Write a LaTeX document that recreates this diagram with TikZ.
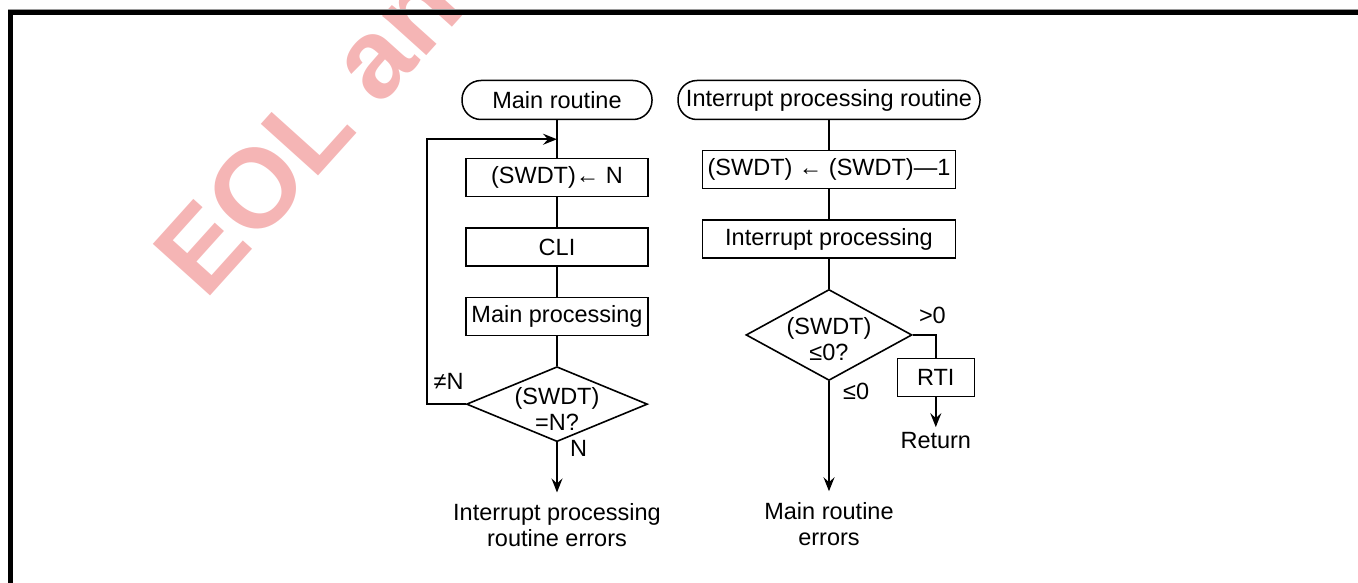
\documentclass[tikz,border=0pt]{standalone}
\usepackage{fontspec}
\setmainfont{Liberation Sans}
\usepackage{tikz}
\usetikzlibrary{arrows.meta,positioning,shapes.geometric}
\definecolor{Ink}{HTML}{000000}
\definecolor{Wmark}{HTML}{F5B5B5}
\definecolor{Rule}{HTML}{9A9A9A}

\begin{document}
\begin{tikzpicture}[
    x=1pt,y=-1pt,
    node distance=30pt,
    every node/.style={font=\fontsize{23.5}{26}\selectfont},
    term/.style={draw=Ink,line width=1.5pt,rounded corners=19pt,minimum height=39pt,inner sep=2pt},
    box/.style={draw=Ink,line width=1.2pt,minimum height=38pt,inner sep=2pt},
    decide/.style={draw=Ink,line width=1.6pt,diamond,inner sep=0pt},
    txt/.style={align=center,inner sep=2pt},
    endtxt/.style={align=center,inner sep=2pt,outer sep=9pt},
    link/.style={line width=2pt,draw=Ink},
    arrow/.style={-{Stealth[length=14pt,width=11pt,inset=5pt]},line width=2pt,draw=Ink}
]
\useasboundingbox (0,0) rectangle (1358,583);
% watermark
\begin{scope}
\clip (0,0) rectangle (1358,583);
\node[rotate=48,anchor=base west,inner sep=0pt,text=Wmark,
  font=\fontsize{112}{112}\selectfont\bfseries] (wm) at (205,302) {EOL an};
\end{scope}
% frame
\draw[Rule,line width=1pt] (8,9.3) -- (1358,9.3);
\draw[Ink,line width=5pt] (10.5,583) -- (10.5,12.5) -- (1358,12.5);

% main routine
\node[term,minimum width=190pt] (main) at (557,100) {Main routine};
\node[box,minimum width=182pt,below=38pt of main] (setn) {(SWDT)← N};
\node[box,minimum width=182pt,below=of setn] (cli) {CLI};
\node[box,minimum width=182pt,below=of cli] (mproc) {Main processing};
\node[decide,minimum width=181pt,minimum height=75pt,below=of mproc] (test) {};
\node[txt,yshift=-5pt] (testq) at (test) {(SWDT)\\=N?};
\node[endtxt,below=50pt of test] (err1) {Interrupt processing\\routine errors};
\coordinate[below=19pt of main] (join);

% interrupt routine
\node[term,minimum width=302pt] (irq) at (829,100) {Interrupt processing routine};
\node[box,minimum width=253pt,below=of irq] (dec) {(SWDT) ← (SWDT)—1};
\node[box,minimum width=253pt,below=of dec] (iproc) {Interrupt processing};
\node[decide,minimum width=166pt,minimum height=91pt,below=of iproc] (chk) {};
\node[txt,yshift=-4pt] (chkq) at (chk) {(SWDT)\\≤0?};
\node[box,minimum width=77pt,anchor=north] (rti) at ([xshift=23pt,yshift=-23pt]chk.east) {RTI};
\node[txt,outer sep=3pt,below=of rti] (ret) {Return};
\node[endtxt,below=110pt of chk] (err2) {Main routine\\errors};

% branch labels
\node[txt,anchor=south east] (lne) at ([yshift=12pt]test.west) {≠N};
\node[txt,anchor=north west] (ln) at ([xshift=11pt,yshift=4pt]test.south) {N};
\node[txt,anchor=south west] (lgt) at ([xshift=4pt,yshift=9pt]chk.east) {>0};
\node[txt,anchor=north west] (lle) at ([xshift=12pt]chk.south) {≤0};

\draw[link] (main) -- (setn);
\draw[link] (setn) -- (cli);
\draw[link] (cli) -- (mproc);
\draw[link] (mproc) -- (test);
\draw[arrow] (test.west) -- ++(-39,0) |- (join);
\draw[arrow] (test.south) -- (err1.north);
\draw[link] (irq) -- (dec);
\draw[link] (dec) -- (iproc);
\draw[link] (iproc) -- (chk);
\draw[link] (chk.east) -| (rti.north);
\draw[arrow] (rti) -- (ret);
\draw[arrow] (chk.south) -- (err2.north);
\end{tikzpicture}
\end{document}
